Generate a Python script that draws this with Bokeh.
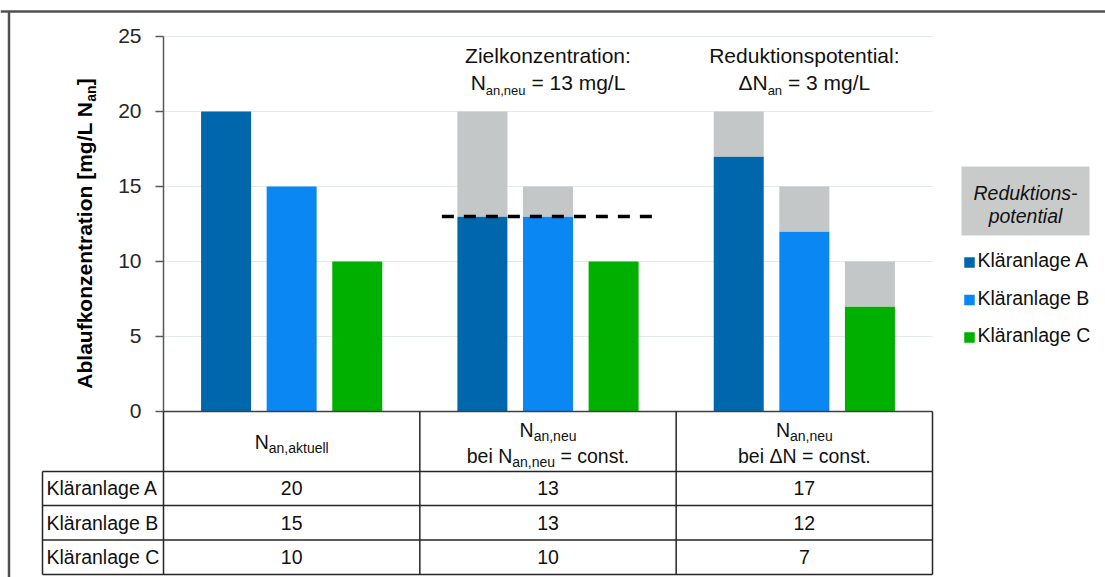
import math
from bokeh.plotting import figure
from bokeh.models import ColumnDataSource, Range1d
from bokeh.core.properties import value
from bokeh.embed import file_html
from bokeh.resources import INLINE

# ---------------- data ----------------
plants = ["Kläranlage A", "Kläranlage B", "Kläranlage C"]
n_current = [20, 15, 10]          # N_an,aktuell
n_target_const = [13, 13, 10]     # N_an,neu bei N_an,neu = const.
n_delta_const = [17, 12, 7]       # N_an,neu bei ΔN = const.
target_conc = 13                  # Zielkonzentration N_an,neu [mg/L]
delta_n = 3                       # Reduktionspotential ΔN_an [mg/L]
y_ticks = [0, 5, 10, 15, 20, 25]
y_tick_labels = ["0", "5", "10", "15", "20", "25"]
ylabel_parts = [("Ablaufkonzentration [mg/L N", "main"), ("an", "sub"), ("]", "main")]
potential_label = ["Reduktions-", "potential"]
header_lines = [
    [[("N", "main"), ("an,aktuell", "sub")]],
    [[("N", "main"), ("an,neu", "sub")],
     [("bei N", "main"), ("an,neu", "sub"), (" = const.", "main")]],
    [[("N", "main"), ("an,neu", "sub")],
     [("bei ΔN = const.", "main")]],
]
annot_title = ["Zielkonzentration:", "Reduktionspotential:"]
annot_line = [
    [("N", "main"), ("an,neu", "sub"), (f" = {target_conc} mg/L", "main")],
    [("ΔN", "main"), ("an", "sub"), (f" = {delta_n} mg/L", "main")],
]
scenario_values = [n_current, n_target_const, n_delta_const]

# ---------------- styles / layout ----------------
plant_colors = ["#0067AC", "#0B87F4", "#00B000"]
potential_color = "#C4C7C7"
legend_box_color = "#C9CBCB"
grid_color = "#E4E9E9"
axis_color = "#595959"
table_color = "#262626"
text_color = "#111111"
FONT = "Liberation Sans"
BASE_FIX = 0.36   # correction of the rendered baseline (fraction of font size)

PAGE = 0
W, H = 1105, 577
AX_X, PLOT_R = 163, 932     # px of y-axis and plot right edge
Y0, PX_PER_Y = 411, 15      # px of y = 0 and px per unit
UNIT_X = (PLOT_R - AX_X) / 3.0
BAR_W = 50 / UNIT_X
BAR_STEP = 65.6 / UNIT_X


def u(px):
    return -0.5 + (px - AX_X) / UNIT_X


def v(py):
    return (Y0 - py) / PX_PER_Y


def xpx(xd):
    return AX_X + (xd + 0.5) * UNIT_X


W_REG = {' ': 278, ',': 278, '.': 278, '/': 278, ':': 278, '-': 333, '=': 584, '[': 278, ']': 278,
         'A': 667, 'B': 667, 'C': 722, 'K': 667, 'L': 556, 'N': 722, 'R': 722, 'Z': 611, 'Δ': 668,
         'a': 556, 'b': 556, 'c': 500, 'd': 556, 'e': 556, 'f': 278, 'g': 556, 'h': 556, 'i': 222,
         'k': 500, 'l': 222, 'm': 833, 'n': 556, 'o': 556, 'p': 556, 'r': 333, 's': 500, 't': 278,
         'u': 556, 'z': 500, 'ä': 556}
W_BOLD = {' ': 278, '[': 333, ']': 333, '/': 278, 'A': 722, 'L': 611, 'N': 722,
          'a': 556, 'b': 611, 'f': 333, 'g': 611, 'i': 278, 'k': 556, 'l': 278, 'm': 889, 'n': 611,
          'o': 611, 'r': 389, 't': 333, 'u': 611, 'z': 500, 'e': 556}


def tw(s, size, bold=False):
    tbl = W_BOLD if bold else W_REG
    return sum(tbl.get(c, 556) for c in s) * size / 1000.0


p = figure(width=W, height=H, x_range=Range1d(u(PAGE), u(PAGE + W)),
           y_range=Range1d(v(PAGE + H), v(PAGE)), output_backend="svg",
           toolbar_location=None, x_axis_location=None, y_axis_location=None,
           min_border=0, title=None)
p.center = []
p.outline_line_color = None
p.background_fill_color = "white"
p.border_fill_color = "white"


def put_text(x_px, y_px, t, size, align="left", style="normal", color=text_color, angle=0.0):
    if angle:
        x_px = x_px - BASE_FIX * size
    else:
        y_px = y_px - BASE_FIX * size
    p.text(x=[u(x_px)], y=[v(y_px)], text=[t], text_font=value(FONT),
           text_font_size=f"{size}px", text_font_style=style, text_align=align,
           text_baseline="alphabetic", text_color=color, angle=angle)


def rich_h(parts, cx_px, base_py, s_main, s_sub, shift):
    items = [(t, s_main if k == "main" else s_sub, 0 if k == "main" else shift) for t, k in parts]
    total = sum(tw(t, s) for t, s, _ in items)
    x = cx_px - total / 2
    for t, s, dy in items:
        lead = len(t) - len(t.lstrip(" "))
        put_text(x + tw(" " * lead, s), base_py + dy, t.strip(" "), s)
        x += tw(t, s)


def rich_v(parts, base_px, center_py, s_main, s_sub, shift):
    items = [(t, s_main if k == "main" else s_sub, 0 if k == "main" else shift) for t, k in parts]
    total = sum(tw(t, s, True) for t, s, _ in items)
    y = center_py + total / 2
    for t, s, dx in items:
        put_text(base_px + dx, y, t, s, style="bold", color="black", angle=math.pi / 2)
        y -= tw(t, s, True)


# ---------------- gridlines ----------------
gt = y_ticks[1:]
p.segment(x0=[-0.5] * len(gt), x1=[2.5] * len(gt), y0=gt, y1=gt, line_color=grid_color, line_width=1)

# ---------------- bars ----------------
bx, btop, bcol = [], [], []
gx, gbot, gtop = [], [], []
for i, vals in enumerate(scenario_values):
    for j, val in enumerate(vals):
        x = i + (j - 1) * BAR_STEP
        bx.append(x)
        btop.append(val)
        bcol.append(plant_colors[j])
        if n_current[j] > val:
            gx.append(x)
            gbot.append(val)
            gtop.append(n_current[j])
p.vbar(x="x", top="top", bottom=0, width=BAR_W, fill_color="color", line_color=None,
       source=ColumnDataSource(dict(x=bx, top=btop, color=bcol)))
p.vbar(x="x", top="top", bottom="bottom", width=BAR_W, fill_color=potential_color, line_color=None,
       source=ColumnDataSource(dict(x=gx, top=gtop, bottom=gbot)))

# target concentration line (scenario 2)
p.line(x=[1 - 0.414, 1 + 0.414], y=[target_conc, target_conc], line_color="black",
       line_width=3.5, line_dash="12 10")

# ---------------- y axis ----------------
p.segment(x0=[-0.5], x1=[-0.5], y0=[0], y1=[max(y_ticks)], line_color=axis_color, line_width=1.5)
p.segment(x0=[u(AX_X - 8)] * len(y_ticks), x1=[-0.5] * len(y_ticks), y0=y_ticks, y1=y_ticks,
          line_color=axis_color, line_width=1.5)
p.text(x=[u(141)] * len(y_ticks),
       y=[t - (7.5 - BASE_FIX * 21) / PX_PER_Y for t in y_ticks], text=y_tick_labels,
       text_font=value(FONT), text_font_size="21px", text_align="right",
       text_baseline="alphabetic", text_color="#262626")
p.segment(x0=[-0.5], x1=[2.5], y0=[0], y1=[0], line_color="#404040", line_width=1.5)
rich_v(ylabel_parts, 92, 233, 21, 14, 4)

# ---------------- annotations ----------------
for k in range(2):
    cx = xpx(k + 1)
    put_text(cx, 63, annot_title[k], 21, align="center")
    rich_h(annot_line[k], cx, 90, 21, 13, 4.5)

# ---------------- legend ----------------
p.quad(left=[u(961)], right=[u(1089)], top=[v(166)], bottom=[v(235)],
       fill_color=legend_box_color, line_color=None)
put_text(1025, 200, potential_label[0], 19.5, align="center", style="italic")
put_text(1025, 223, potential_label[1], 19.5, align="center", style="italic")
leg_cy = [262, 299.5, 337]
p.scatter(x=[u(969)] * 3, y=[v(c) for c in leg_cy], marker="square", size=10.5,
          fill_color=plant_colors, line_color=None)
for j in range(3):
    put_text(977, leg_cy[j] + 5, plants[j], 19.5)

# ---------------- table ----------------
TBL_L = 42
row_lines = [471, 505, 539.5, 574]
p.segment(x0=[u(TBL_L)] * 4, x1=[2.5] * 4, y0=[v(r) for r in row_lines], y1=[v(r) for r in row_lines],
          line_color=table_color, line_width=1.5)
vx = [-0.5, 0.5, 1.5, 2.5]
p.segment(x0=vx, x1=vx, y0=[0] * 4, y1=[v(574)] * 4, line_color=table_color, line_width=1.5)
p.segment(x0=[u(TBL_L)], x1=[u(TBL_L)], y0=[v(471)], y1=[v(574)], line_color=table_color, line_width=1.5)

for i, lines in enumerate(header_lines):
    bases = [449] if len(lines) == 1 else [437, 463]
    for ln, b in zip(lines, bases):
        rich_h(ln, xpx(i), b, 19.5, 14, 4)

for j in range(3):
    cy = (row_lines[j] + row_lines[j + 1]) / 2
    put_text(46, cy + 7, plants[j], 19.5)
    for i, vals in enumerate(scenario_values):
        put_text(xpx(i), cy + 7, str(vals[j]), 19.5, align="center")

# ---------------- outer frame ----------------
p.segment(x0=[u(PAGE)], x1=[u(PAGE + W)], y0=[v(11)], y1=[v(11)], line_color="#505050", line_width=2.5)
p.segment(x0=[u(8.5)], x1=[u(8.5)], y0=[v(11)], y1=[v(PAGE + H)], line_color="#505050", line_width=2.5)

open("out.html", "w").write(file_html(p, INLINE))
